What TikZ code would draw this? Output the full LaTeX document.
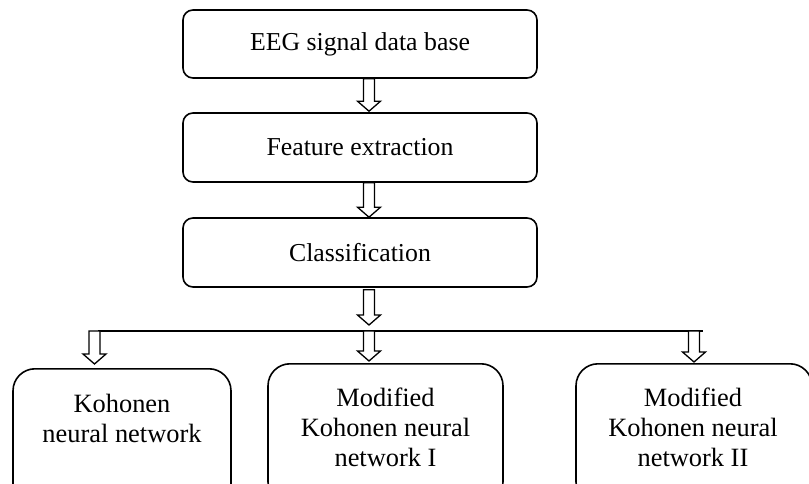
\documentclass[tikz,border=0pt]{standalone}
\usepackage{fontspec}
\setmainfont{Liberation Serif}
\usetikzlibrary{calc}
\tikzset{
  topbox/.style={draw, line width=1.6pt, rounded corners=10pt, minimum width=354pt, minimum height=68pt, inner sep=0pt, font=\fontsize{25.8}{31}\selectfont},
  botbox/.style={draw, line width=1.6pt, rounded corners=22pt, inner sep=0pt},
  bottext/.style={align=center, inner sep=0pt, font=\fontsize{26.4}{30}\selectfont},
  blockarrow/.style={draw, line width=1.3pt, fill=white, to path={
    let \p1=(\tikztostart), \p2=(\tikztotarget) in
    (\x1-5.5pt,\y1) -- (\x1+5.5pt,\y1) -- (\x1+5.5pt,\y2+10pt) -- (\x1+11.5pt,\y2+10pt)
    -- (\x1,\y2) -- (\x1-11.5pt,\y2+10pt) -- (\x1-5.5pt,\y2+10pt) -- cycle}},
}
\begin{document}
\begin{tikzpicture}[x=1pt,y=1pt]
\useasboundingbox (0,0) rectangle (809,-484);
\clip (0,0) rectangle (809,-484);
\node[topbox] (e) at (360,-44) {EEG signal data base};
\node[topbox, minimum height=69pt] (f) at (360,-147.5) {Feature extraction};
\node[topbox, minimum height=69pt] (c) at (360,-252.5) {Classification};
\coordinate (ax) at (369,0);
\draw[blockarrow] (e.south -| ax) to ($(f.north -| ax)+(0,1)$);
\draw[blockarrow] (f.south -| ax) to (c.north -| ax);
\coordinate (hl) at (98,-331);
\coordinate (hr) at (703,-331);
\draw[line width=1.6pt] (hl) -- (hr);
\draw[blockarrow] ($(c.south -| ax)+(0,-2)$) to ($(hl -| ax)+(0,6)$);
% bottom boxes
\node[botbox, minimum width=218pt, minimum height=140pt, anchor=north] (k1) at (122,-368) {};
\node[botbox, minimum width=235pt, minimum height=140pt, anchor=north] (k2) at (385.5,-363) {};
\node[botbox, minimum width=236pt, minimum height=140pt, anchor=north] (k3) at (694,-363) {};
\node[bottext] (t1) at (122,-418) {Kohonen\\neural network};
\node[bottext] (t2) at (385.5,-427) {Modified\\Kohonen neural\\network I};
\node[bottext] (t3) at (693,-427) {Modified\\Kohonen neural\\network II};
\draw[blockarrow] (hl -| 94.5,0) to ($(k1.north -| 94.5,0)+(0,4)$);
\draw[blockarrow] (hl -| ax) to ($(k2.north -| ax)+(0,2)$);
\draw[blockarrow] (hl -| 694,0) to ($(k3.north -| 694,0)+(0,1)$);
\end{tikzpicture}
\end{document}
